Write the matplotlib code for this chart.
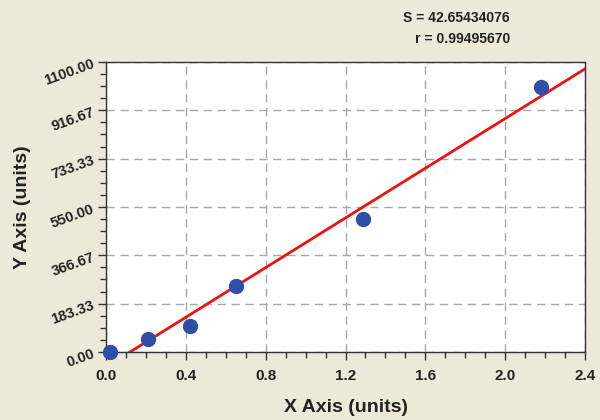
import matplotlib
matplotlib.use("Agg")
import matplotlib.pyplot as plt
import numpy as np
from matplotlib.ticker import MultipleLocator, FixedLocator

plt.rcParams['font.family'] = ['Liberation Sans', 'DejaVu Sans']

# standard curve points
x_vals = [0.02, 0.21, 0.42, 0.65, 1.29, 2.18]
y_vals = [0.0, 49.0, 99.0, 250.0, 504.0, 1005.0]

x_ticks = [0.0, 0.4, 0.8, 1.2, 1.6, 2.0, 2.4]
y_ticks = [0.0, 183.33, 366.67, 550.00, 733.33, 916.67, 1100.00]

s_text = "S = 42.65434076"
r_text = "r = 0.99495670"

BG = "#ece9d8"

fig = plt.figure(figsize=(6, 4.2), dpi=100, facecolor=BG)
ax = fig.add_axes([0.1767, 0.1619, 0.7983, 0.6905])

# linear fit
slope, intercept = np.polyfit(x_vals, y_vals, 1)
xl = np.array([0.0, 2.4])
ax.plot(xl, slope * xl + intercept, color="#f01010", lw=2, zorder=3)

ax.plot(x_vals, y_vals, "o", color="#2e4fa8", ms=10, zorder=4, clip_on=False)

ax.set_xlim(0, 2.4)
ax.set_ylim(0, 1100)
ax.xaxis.set_major_locator(FixedLocator(x_ticks))
ax.xaxis.set_minor_locator(MultipleLocator(0.1))
ax.yaxis.set_major_locator(FixedLocator(y_ticks))
ax.yaxis.set_minor_locator(MultipleLocator(1100 / 24))
ax.set_xticklabels([f"{t:.1f}" for t in x_ticks], fontsize=11, fontweight="bold", color="#222222")
ax.set_yticklabels([f"{t:.2f}" for t in y_ticks], fontsize=10.5, fontweight="bold", color="#222222",
                   rotation=20, ha="right", rotation_mode="anchor")
ax.tick_params(which="major", length=6, width=1, direction="out", color="#333333")
ax.tick_params(which="minor", length=4, width=1, direction="out", color="#333333")
ax.tick_params(axis="x", pad=6)
ax.tick_params(axis="y", pad=3)

ax.grid(True, which="major", ls=(0, (6, 4)), color="#a8a8a8", lw=1)
for sp in ax.spines.values():
    sp.set_color("#333333")
    sp.set_linewidth(1)

ax.set_xlabel("X Axis (units)", fontsize=14, fontweight="bold", color="#222222", labelpad=12)
ax.set_ylabel("Y Axis (units)", fontsize=14, fontweight="bold", color="#222222", labelpad=8)

fig.text(0.85, 0.956, s_text, ha="right", va="center", fontsize=10, fontweight="bold", color="#222222")
fig.text(0.85, 0.908, r_text, ha="right", va="center", fontsize=10, fontweight="bold", color="#222222")

fig.savefig("out.png", dpi=100, facecolor=BG)
